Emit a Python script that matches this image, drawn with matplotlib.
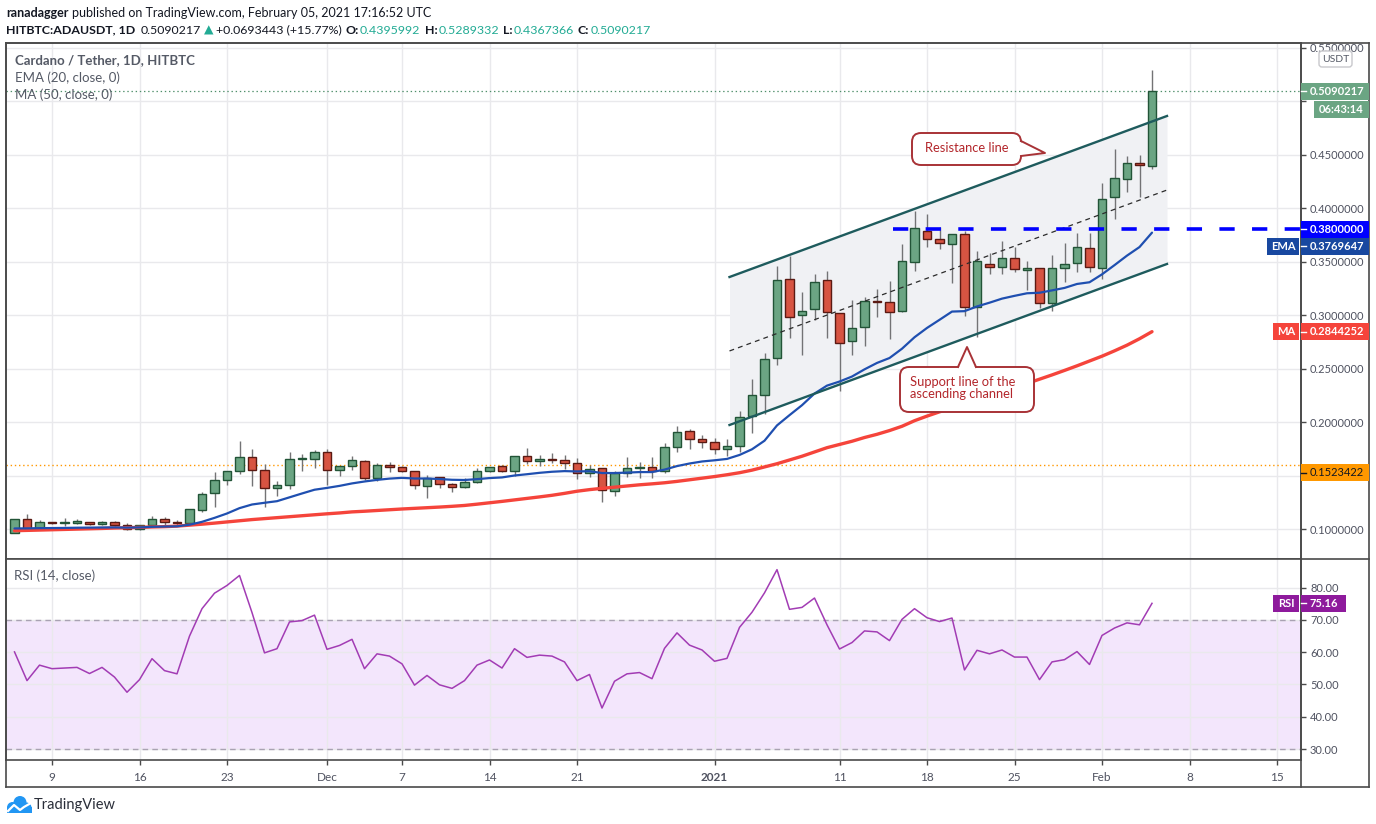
import matplotlib
matplotlib.use('Agg')
import matplotlib.pyplot as plt
import matplotlib.transforms as mtrans
from matplotlib.patches import Rectangle, FancyBboxPatch, Polygon, Circle
from matplotlib.lines import Line2D
from matplotlib.ticker import FuncFormatter
import numpy as np
import pandas as pd

# ---------------- data ----------------
dates = pd.date_range('2020-11-06', '2021-02-05', freq='D')

opens = [0.0965, 0.1090, 0.1003, 0.1063, 0.1055, 0.1060, 0.1062, 0.1047, 0.1063, 0.1036,
         0.0998, 0.1035, 0.1094, 0.1063, 0.1057, 0.1180, 0.1333, 0.1455, 0.1539, 0.1670,
         0.1548, 0.1380, 0.1408, 0.1650, 0.1655, 0.1717, 0.1548, 0.1586, 0.1633, 0.1474,
         0.1595, 0.1580, 0.1539, 0.1405, 0.1483, 0.1417, 0.1390, 0.1437, 0.1539, 0.1586,
         0.1539, 0.1680, 0.1633, 0.1652, 0.1643, 0.1614, 0.1520, 0.1567, 0.1352, 0.1520,
         0.1567, 0.1577, 0.1539, 0.1763, 0.1913, 0.1838, 0.1810, 0.1745, 0.1773, 0.2055,
         0.2250, 0.2595, 0.3333, 0.2997, 0.3053, 0.3324, 0.3016, 0.2754, 0.2885, 0.3128,
         0.3120, 0.3035, 0.3493, 0.3788, 0.3707, 0.3661, 0.3754, 0.3078, 0.3474, 0.3451,
         0.3530, 0.3418, 0.3436, 0.3109, 0.3436, 0.3483, 0.3623, 0.3442, 0.4100, 0.4268,
         0.4418, 0.4395992]
highs = [0.1093, 0.1140, 0.1084, 0.1068, 0.1100, 0.1090, 0.1070, 0.1075, 0.1075, 0.1055,
         0.1040, 0.1120, 0.1113, 0.1088, 0.1190, 0.1343, 0.1533, 0.1540, 0.1822, 0.1748,
         0.1610, 0.1448, 0.1717, 0.1700, 0.1740, 0.1748, 0.1586, 0.1680, 0.1645, 0.1620,
         0.1630, 0.1585, 0.1545, 0.1505, 0.1483, 0.1430, 0.1474, 0.1567, 0.1577, 0.1595,
         0.1680, 0.1757, 0.1690, 0.1710, 0.1690, 0.1660, 0.1600, 0.1567, 0.1540, 0.1676,
         0.1630, 0.1670, 0.1800, 0.1966, 0.1930, 0.1875, 0.1850, 0.1840, 0.2103, 0.2402,
         0.2642, 0.3458, 0.3550, 0.3212, 0.3383, 0.3411, 0.3016, 0.3137, 0.3165, 0.3243,
         0.3315, 0.3664, 0.3972, 0.3944, 0.3823, 0.3760, 0.3782, 0.3598, 0.3579, 0.3692,
         0.3636, 0.3502, 0.3436, 0.3558, 0.3670, 0.3763, 0.3763, 0.4231, 0.4549, 0.4483,
         0.4493, 0.5289332]
lows = [0.0960, 0.0990, 0.0995, 0.1045, 0.1030, 0.1045, 0.1040, 0.1038, 0.1025, 0.0990,
        0.0995, 0.1015, 0.1020, 0.1040, 0.1057, 0.1160, 0.1210, 0.1409, 0.1510, 0.1402,
        0.1204, 0.1313, 0.1377, 0.1545, 0.1570, 0.1411, 0.1500, 0.1550, 0.1458, 0.1450,
        0.1530, 0.1535, 0.1377, 0.1293, 0.1380, 0.1342, 0.1380, 0.1430, 0.1530, 0.1530,
        0.1495, 0.1605, 0.1590, 0.1615, 0.1560, 0.1464, 0.1490, 0.1255, 0.1310, 0.1490,
        0.1480, 0.1480, 0.1527, 0.1720, 0.1747, 0.1760, 0.1700, 0.1680, 0.1720, 0.1897,
        0.2077, 0.2536, 0.2788, 0.2629, 0.2954, 0.2788, 0.2293, 0.2629, 0.2713, 0.2980,
        0.2780, 0.3024, 0.3414, 0.3632, 0.3614, 0.3302, 0.2994, 0.2797, 0.3387, 0.3387,
        0.3399, 0.3234, 0.3063, 0.3041, 0.3308, 0.3399, 0.3405, 0.3334, 0.3901, 0.4146,
        0.4100, 0.4367366]
closes = [0.1090, 0.1003, 0.1063, 0.1056, 0.1060, 0.1062, 0.1047, 0.1063, 0.1038, 0.0998,
          0.1035, 0.1094, 0.1063, 0.1055, 0.1187, 0.1324, 0.1455, 0.1539, 0.1670, 0.1548,
          0.1380, 0.1408, 0.1650, 0.1655, 0.1717, 0.1548, 0.1586, 0.1642, 0.1474, 0.1595,
          0.1580, 0.1539, 0.1408, 0.1474, 0.1417, 0.1390, 0.1437, 0.1539, 0.1577, 0.1539,
          0.1680, 0.1633, 0.1652, 0.1643, 0.1614, 0.1520, 0.1558, 0.1362, 0.1520, 0.1567,
          0.1577, 0.1539, 0.1763, 0.1903, 0.1838, 0.1810, 0.1745, 0.1773, 0.2050, 0.2250,
          0.2586, 0.3324, 0.2978, 0.3035, 0.3305, 0.3025, 0.2741, 0.2876, 0.3128, 0.3120,
          0.3025, 0.3502, 0.3810, 0.3707, 0.3670, 0.3754, 0.3078, 0.3502, 0.3451, 0.3530,
          0.3427, 0.3436, 0.3109, 0.3436, 0.3474, 0.3633, 0.3451, 0.4081, 0.4278, 0.4418,
          0.4399, 0.5090217]

ema20 = [0.1005, 0.1006, 0.1008, 0.1009, 0.1010, 0.1012, 0.1013, 0.1014, 0.1015, 0.1013,
         0.1015, 0.1020, 0.1023, 0.1025, 0.1040, 0.1067, 0.1104, 0.1145, 0.1195, 0.1229,
         0.1245, 0.1260, 0.1296, 0.1332, 0.1367, 0.1384, 0.1403, 0.1426, 0.1444, 0.1459,
         0.1471, 0.1478, 0.1472, 0.1472, 0.1467, 0.1460, 0.1458, 0.1466, 0.1476, 0.1482,
         0.1500, 0.1512, 0.1525, 0.1535, 0.1541, 0.1538, 0.1540, 0.1523, 0.1523, 0.1527,
         0.1532, 0.1532, 0.1555, 0.1588, 0.1612, 0.1631, 0.1642, 0.1655, 0.1692, 0.1745,
         0.1825, 0.1968, 0.2064, 0.2157, 0.2266, 0.2340, 0.2378, 0.2425, 0.2492, 0.2552,
         0.2598, 0.2685, 0.2792, 0.2879, 0.2955, 0.3032, 0.3036, 0.3080, 0.3115, 0.3153,
         0.3179, 0.3203, 0.3208, 0.3230, 0.3253, 0.3290, 0.3306, 0.3380, 0.3466, 0.3555,
         0.3635, 0.3769647]

ma50 = [0.0984, 0.0987, 0.0990, 0.0993, 0.0996, 0.0999, 0.1002, 0.1005, 0.1009, 0.1012,
        0.1015, 0.1019, 0.1022, 0.1027, 0.1036, 0.1045, 0.1055, 0.1066, 0.1077, 0.1088,
        0.1097, 0.1106, 0.1115, 0.1124, 0.1133, 0.1142, 0.1150, 0.1160, 0.1166, 0.1173,
        0.1180, 0.1187, 0.1193, 0.1199, 0.1205, 0.1212, 0.1220, 0.1232, 0.1245, 0.1258,
        0.1272, 0.1286, 0.1300, 0.1315, 0.1333, 0.1353, 0.1368, 0.1380, 0.1391, 0.1402,
        0.1413, 0.1422, 0.1432, 0.1445, 0.1460, 0.1475, 0.1490, 0.1507, 0.1526, 0.1550,
        0.1580, 0.1610, 0.1645, 0.1680, 0.1720, 0.1760, 0.1790, 0.1820, 0.1855, 0.1885,
        0.1920, 0.1960, 0.2012, 0.2055, 0.2095, 0.2130, 0.2165, 0.2200, 0.2240, 0.2280,
        0.2320, 0.2360, 0.2400, 0.2440, 0.2482, 0.2525, 0.2570, 0.2615, 0.2665, 0.2718,
        0.2778, 0.2844252]

rsi14 = [60.1, 51.2, 56.0, 54.9, 55.1, 55.3, 53.4, 55.3, 52.3, 47.6,
         51.5, 58.0, 54.3, 53.3, 65.0, 73.5, 78.3, 80.7, 83.8, 72.3,
         59.8, 61.1, 69.4, 69.8, 71.5, 60.9, 62.1, 64.0, 54.9, 59.5,
         58.8, 56.4, 49.8, 52.8, 49.9, 48.8, 51.2, 56.0, 57.6, 55.1,
         61.1, 58.4, 59.1, 58.8, 57.0, 51.2, 53.1, 42.7, 51.0, 53.3,
         53.7, 51.8, 61.2, 66.0, 62.2, 60.7, 57.2, 58.1, 67.7, 72.4,
         78.4, 85.6, 73.3, 73.9, 76.8, 68.5, 61.0, 63.0, 66.6, 66.3,
         63.6, 70.2, 73.5, 70.7, 69.5, 70.6, 54.5, 60.6, 59.5, 60.7,
         58.5, 58.5, 51.5, 57.0, 57.7, 60.2, 56.2, 65.2, 67.5, 69.1,
         68.5, 75.16]

price_ticks = [0.10, 0.15, 0.20, 0.25, 0.30, 0.35, 0.40, 0.45, 0.50, 0.55]
hidden_price_ticks = [0.15, 0.50]          # covered by the price labels
rsi_ticks = [30, 40, 50, 60, 70, 80]
tick_dates = ['2020-11-09', '2020-11-16', '2020-11-23', '2020-12-01', '2020-12-07',
              '2020-12-14', '2020-12-21', '2021-01-01', '2021-01-11', '2021-01-18',
              '2021-01-25', '2021-02-01', '2021-02-08', '2021-02-15']
tick_labels = ['9', '16', '23', 'Dec', '7', '14', '21', '2021', '11', '18', '25', 'Feb', '8', '15']

# channel drawing (day index, price)
channel_x = [57.2, 92.2]
channel_upper = [0.3355, 0.4860]
channel_mid = [0.2664, 0.4168]
channel_lower = [0.1972, 0.3477]
level_price = 0.38
level_start = 70.3
orange_line = 0.1598
orange_label = 0.1523422
rsi_upper, rsi_lower = 70, 30

# ---------------- figure ----------------
plt.rcParams['lines.scale_dashes'] = False
FONT = ['Lato', 'DejaVu Sans']
plt.rcParams['font.family'] = FONT

W, H = 1376, 824
fig = plt.figure(figsize=(W / 100, H / 100), dpi=100)
fig.patch.set_facecolor('white')
pixT = mtrans.Affine2D().scale(0.01, -0.01).translate(0, H / 100) + fig.dpi_scale_trans


def fr(x0, y0, x1, y1):
    return [x0 / W, 1 - y1 / H, (x1 - x0) / W, (y1 - y0) / H]


X_LEFT, X_RIGHT, X_OUT = 6.3, 1301, 1369
Y_TOP, Y_SEP, Y_RSI_BOT, Y_BOT = 42.7, 559, 760.3, 787
FRAME = '#4a4a4a'
GRID = '#e9e9ec'
TXT = '#4f5260'

ax = fig.add_axes(fr(X_LEFT, Y_TOP, X_RIGHT, Y_SEP))
axr = fig.add_axes(fr(X_LEFT, Y_SEP, X_RIGHT, Y_RSI_BOT))

x = np.arange(len(dates))
xlim = ((X_LEFT - 14.5) / 12.5, (X_RIGHT - 14.5) / 12.5)
tick_pos = [(pd.Timestamp(d) - dates[0]).days for d in tick_dates]

for a in (ax, axr):
    a.set_xlim(*xlim)
    a.set_facecolor('white')
    for s in a.spines.values():
        s.set_color(FRAME)
        s.set_linewidth(1.2)
    a.set_xticks(tick_pos)
    a.grid(True, color=GRID, lw=1, zorder=0)
    a.set_axisbelow(True)
    a.yaxis.tick_right()
    a.tick_params(axis='y', direction='out', length=3.5, width=1, color=FRAME,
                  pad=3, labelsize=8, labelcolor=TXT)


def price_fmt(v, p):
    if any(abs(v - h) < 1e-9 for h in hidden_price_ticks):
        return ''
    return f'{v:.7f}'


ax.set_ylim(0.071963, 0.554486)
ax.set_yticks(price_ticks)
ax.yaxis.set_major_formatter(FuncFormatter(price_fmt))
ax.tick_params(axis='x', length=0, labelbottom=False)

axr.set_ylim(26.5, 88.9)
axr.set_yticks(rsi_ticks)
axr.yaxis.set_major_formatter(FuncFormatter(lambda v, p: f'{v:.2f}'))
axr.set_xticklabels(tick_labels)
axr.tick_params(axis='x', direction='out', length=3.5, width=1, color=FRAME,
                pad=5, labelsize=8.5, labelcolor=TXT)
for lab in axr.get_xticklabels():
    if lab.get_text() == '2021':
        lab.set_fontweight('bold')

# channel
ax.fill_between(channel_x, channel_lower, channel_upper, color='#f0f1f4', zorder=1, lw=0)
ax.plot(channel_x, channel_upper, color='#1e5b5d', lw=1.7, zorder=6)
ax.plot(channel_x, channel_lower, color='#1e5b5d', lw=1.7, zorder=6)
ax.plot(channel_x, channel_mid, color='#2b2b2b', lw=0.9, dashes=(3.5, 3), zorder=6)

# price lines
ax.axhline(orange_line, color='#ff9800', lw=1, ls=(0, (1, 2)), zorder=2)
ax.axhline(closes[-1], color='#4f8f6a', lw=0.9, ls=(0, (1, 2)), zorder=2)
ax.hlines(level_price, level_start, xlim[1], color='#0000ff', lw=2.6,
          linestyles=[(0, (11, 12.5))], zorder=7)

# candles
UP_F, UP_E = '#6ba583', '#225437'
DN_F, DN_E = '#d75442', '#5b1a13'
for i in x:
    o, h, l, c = opens[i], highs[i], lows[i], closes[i]
    ax.vlines(i, l, h, color='#737375', lw=1, zorder=3)
    up = c >= o
    lo = min(o, c)
    hgt = max(abs(c - o), 0.0014)
    ax.add_patch(Rectangle((i - 0.33, lo), 0.66, hgt, fc=UP_F if up else DN_F,
                           ec=UP_E if up else DN_E, lw=1, zorder=4))

ax.plot(x, ma50, color='#f5443b', lw=2.4, zorder=5, solid_capstyle='round')
ax.plot(x, ema20, color='#1f4fb0', lw=1.6, zorder=5, solid_capstyle='round')

# RSI
axr.axhspan(rsi_lower, rsi_upper, color='#f3e6fc', zorder=0.5, lw=0)
for lv in (rsi_lower, rsi_upper):
    axr.axhline(lv, color='#a9a2b2', lw=1, dashes=(4, 3), zorder=1)
axr.plot(x, rsi14, color='#a23cb4', lw=1.1, zorder=5)

# outer frame pieces
def fline(xs, ys, **kw):
    fig.add_artist(Line2D(xs, ys, transform=pixT, color=FRAME, lw=1.2, zorder=5, **kw))

fline([X_LEFT, X_OUT], [Y_TOP, Y_TOP])
fline([X_OUT, X_OUT], [Y_TOP, Y_BOT])
fline([X_LEFT, X_OUT], [Y_BOT, Y_BOT])
fline([X_LEFT, X_LEFT], [Y_TOP, Y_BOT])
fline([X_RIGHT, X_RIGHT], [Y_TOP, Y_BOT])
fline([X_RIGHT, X_OUT], [Y_SEP, Y_SEP])

# ---------------- texts ----------------
renderer = fig.canvas.get_renderer()


def seq(x0, y0, parts, size):
    for s, col, wt, gap in parts:
        t = fig.text(x0, y0, s, transform=pixT, color=col, fontweight=wt, fontsize=size,
                     va='center', ha='left', family=FONT)
        x0 += t.get_window_extent(renderer).width + gap


BLK = '#131722'
TEAL = '#22ab94'
seq(6, 13, [('ranadagger', BLK, 'bold', 4),
            ('published on TradingView.com, February 05, 2021 17:16:52 UTC', BLK, 'normal', 0)], 9.0)
seq(6, 30, [('HITBTC:ADAUSDT, 1D', BLK, 'bold', 5), ('0.5090217', BLK, 'normal', 3),
            ('\u25B2', TEAL, 'normal', 3), ('+0.0693443 (+15.77%)', BLK, 'normal', 4),
            ('O:', BLK, 'bold', 1), ('0.4395992', TEAL, 'normal', 4),
            ('H:', BLK, 'bold', 1), ('0.5289332', TEAL, 'normal', 4),
            ('L:', BLK, 'bold', 1), ('0.4367366', TEAL, 'normal', 4),
            ('C:', BLK, 'bold', 1), ('0.5090217', TEAL, 'normal', 0)], 8.9)

fig.text(15, 60, 'Cardano / Tether, 1D, HITBTC', transform=pixT, color='#555a66',
         fontweight='bold', fontsize=9.5, va='center')
fig.text(15, 78, 'EMA (20, close, 0)', transform=pixT, color='#555a66', fontsize=9.5, va='center')
fig.text(15, 95, 'MA (50, close, 0)', transform=pixT, color='#555a66', fontsize=9.5, va='center')
fig.text(14, 576, 'RSI (14, close)', transform=pixT, color='#555a66', fontsize=9.5, va='center')

# USDT box
fig.add_artist(FancyBboxPatch((1319, 51), 33, 16, boxstyle='round,pad=0,rounding_size=3',
                              transform=pixT, fc='white', ec='#c8c8cc', lw=1, zorder=30))
fig.text(1335.5, 59, 'USDT', transform=pixT, ha='center', va='center', fontsize=7.5,
         color='#555a66', zorder=31)


def ypix(a, v):
    return H - a.transData.transform((0, v))[1]


def rbox(x0, x1, yc, fc, s, tc='white', tx=None, ha='left', bold=True):
    fig.add_artist(Rectangle((x0, yc - 8.5), x1 - x0, 17, transform=pixT, fc=fc,
                             ec='none', zorder=30))
    if tx is None:
        tx = x0 + 9
    fig.text(tx, yc, s, transform=pixT, color=tc, fontsize=8, ha=ha, va='center',
             fontweight='bold' if bold else 'normal', zorder=31)


def tickmark(yc, col='white'):
    fig.add_artist(Line2D([X_RIGHT, X_RIGHT + 4.5], [yc, yc], transform=pixT, color=col,
                          lw=1, zorder=32))


yc = ypix(ax, closes[-1])
rbox(1301, 1369, yc, '#6ba583', f'{closes[-1]:.7f}')
tickmark(yc)
rbox(1314, 1369, yc + 18, '#6ba583', '06:43:14', tx=1319)

yc_level = ypix(ax, level_price)
rbox(1301, 1369, yc_level, '#0000ff', f'{level_price:.7f}')
tickmark(yc_level)

# EMA label stacked just below the level label (as TradingView does)
yc = max(ypix(ax, ema20[-1]), yc_level + 17)
rbox(1267, 1299, yc, '#1848a0', 'EMA', tx=1283, ha='center')
rbox(1301, 1369, yc, '#1848a0', f'{ema20[-1]:.7f}')
tickmark(yc)

yc = ypix(ax, ma50[-1])
rbox(1273, 1299, yc, '#f5443b', 'MA', tx=1286, ha='center')
rbox(1301, 1369, yc, '#f5443b', f'{ma50[-1]:.7f}')
tickmark(yc)

yc = ypix(ax, orange_label)
rbox(1301, 1369, yc, '#ff9800', f'{orange_label:.7f}', tc='#131722', bold=False)
tickmark(yc, '#131722')

yc = ypix(axr, rsi14[-1])
rbox(1273, 1299, yc, '#8e1a9c', 'RSI', tx=1286, ha='center')
rbox(1301, 1346, yc, '#8e1a9c', f'{rsi14[-1]:.2f}')
tickmark(yc)

# callouts
EDGE = '#a83236'
RED_T = '#b3262b'


def callout(x0, y0, x1, y1, b1, b2, tip, i1, i2):
    fig.add_artist(FancyBboxPatch((x0, y0), x1 - x0, y1 - y0,
                                  boxstyle='round,pad=0,rounding_size=9', transform=pixT,
                                  fc='white', ec=EDGE, lw=1.4, zorder=20))
    fig.add_artist(Polygon([i1, i2, tip], closed=True, transform=pixT, fc='white',
                           ec='none', zorder=21))
    fig.add_artist(Line2D([b1[0], tip[0], b2[0]], [b1[1], tip[1], b2[1]], transform=pixT,
                          color=EDGE, lw=1.4, zorder=22))


callout(912, 133, 1021, 165, (1021, 141), (1021, 156), (1045, 153), (1018.5, 141), (1018.5, 156))
fig.text(966.5, 148.5, 'Resistance line', transform=pixT, color=RED_T, fontsize=9.3,
         ha='center', va='center', zorder=23)

callout(900, 367, 1034, 412, (958, 367), (976, 367), (967, 347), (958, 369.5), (976, 369.5))
fig.text(910.5, 382.5, 'Support line of the', transform=pixT, color=RED_T, fontsize=9.3,
         ha='left', va='center', zorder=23)
fig.text(910.5, 394.5, 'ascending channel', transform=pixT, color=RED_T, fontsize=9.3,
         ha='left', va='center', zorder=23)

# TradingView logo
BLUE = '#2196f3'
for cx, cy, r in [(12.5, 807.5, 5.5), (20, 802.5, 6.5), (26.5, 807.5, 5)]:
    fig.add_artist(Circle((cx, cy), r, transform=pixT, fc=BLUE, ec='none', zorder=10))
fig.add_artist(Rectangle((7, 807), 25, 6, transform=pixT, fc=BLUE, ec='none', zorder=10))
fig.add_artist(Line2D([8, 14, 20, 24, 31], [811, 805, 810, 807, 803], transform=pixT,
                      color='white', lw=1.6, zorder=11))
fig.text(34, 805, 'TradingView', transform=pixT, color='#2a2e39', fontsize=10.5,
         va='center', ha='left')

fig.savefig('out.png', dpi=100, facecolor='white')
